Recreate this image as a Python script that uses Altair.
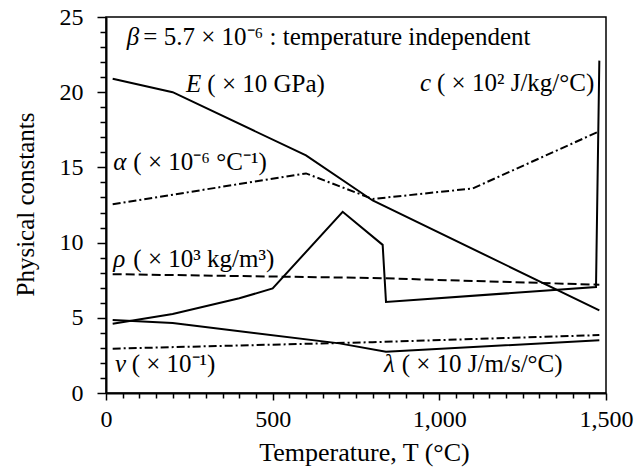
import altair as alt
import pandas as pd

# ---- data ----
T_E = [20, 200, 600, 800, 1480]
E = [20.9, 20.0, 15.8, 12.8, 5.5]

T_alpha = [20, 600, 800, 1100, 1480]
alpha = [12.55, 14.6, 12.9, 13.6, 17.4]

T_rho = [20, 800, 1480]
rho = [7.9, 7.65, 7.2]

T_c = [20, 200, 400, 500, 710, 830, 840, 1470, 1480]
c = [4.6, 5.25, 6.3, 6.95, 12.05, 9.85, 6.05, 7.05, 22.1]

T_lam = [20, 200, 700, 840, 1480]
lam = [4.85, 4.65, 3.3, 2.75, 3.5]

T_nu = [20, 800, 1480]
nu = [2.95, 3.38, 3.85]

# annotation labels: italic symbol, rest of text, anchors (data units)
lab_sym = ["β", "E", "α", "c", "ρ", "ν", "λ"]
lab_rest = [
    "= 5.7 × 10⁻⁶ : temperature independent",
    "( × 10 GPa)",
    "( × 10⁻⁶ °C⁻¹)",
    "( × 10² J/kg/°C)",
    "( × 10³ kg/m³)",
    "( × 10⁻¹)",
    "( × 10 J/m/s/°C)",
]
lab_x = [62, 240, 22, 942, 22, 27, 834]
lab_rest_x = [112, 304, 82, 993, 82, 77, 887]
lab_y = [23.14, 20.03, 14.83, 20.1, 8.4, 1.42, 1.42]

FONT = "Liberation Serif"
FS_TICK = 24
FS_LAB = 25


def series(T, v, name):
    return pd.DataFrame({"T": T, "v": v, "s": name})


x_scale = alt.Scale(domain=[0, 1500], nice=False, zero=False)
y_scale = alt.Scale(domain=[0, 25], nice=False, zero=False)

x_axis = alt.Axis(
    values=list(range(0, 1501, 50)),
    labelExpr="datum.value % 500 === 0 ? format(datum.value, ',') : ''",
    tickSize={"condition": {"test": "datum.value % 500 === 0", "value": 7}, "value": 5},
    tickWidth=1.5,
    labelPadding=7,
    labelFlush=False,
    labelOverlap=False,
    grid=False,
    domainWidth=2,
    title="Temperature, T (°C)",
    titleFontSize=26,
    titleX=258,
    titleY=67,
    titleBaseline="alphabetic",
    titleAlign="center",
)
y_axis = alt.Axis(
    values=list(range(0, 26)),
    labelExpr="datum.value % 5 === 0 ? datum.label : ''",
    tickSize={"condition": {"test": "datum.value % 5 === 0", "value": 9}, "value": 6},
    tickWidth=1.5,
    labelPadding=14,
    labelFlush=False,
    labelOverlap=False,
    grid=False,
    domainWidth=2,
    title="Physical constants",
    titleFontSize=25,
    titleX=-81,
    titleY=187,
    titleAngle=-90,
    titleAlign="center",
    titleBaseline="middle",
)


def line(df, dash=None):
    kw = {"color": "black", "strokeWidth": 2}
    if dash:
        kw["strokeDash"] = dash
    return alt.Chart(df).mark_line(**kw).encode(
        x=alt.X("T:Q", scale=x_scale, axis=x_axis),
        y=alt.Y("v:Q", scale=y_scale, axis=y_axis),
    )


layers = [
    line(series(T_E, E, "E")),
    line(series(T_alpha, alpha, "alpha"), [8, 3, 2, 3]),
    line(series(T_rho, rho, "rho"), [9, 4]),
    line(series(T_c, c, "c")),
    line(series(T_lam, lam, "lam")),
    line(series(T_nu, nu, "nu"), [8, 3, 2, 3]),
]

lab_df = pd.DataFrame({"sym": lab_sym, "rest": lab_rest, "x": lab_x, "rx": lab_rest_x, "y": lab_y})

sym_layer = alt.Chart(lab_df).mark_text(
    font=FONT, fontSize=FS_LAB, fontStyle="italic", align="left", baseline="alphabetic", color="black"
).encode(
    x=alt.X("x:Q", scale=x_scale, axis=x_axis),
    y=alt.Y("y:Q", scale=y_scale, axis=y_axis),
    text="sym:N",
)

rest_layer = alt.Chart(lab_df).mark_text(
    font=FONT, fontSize=FS_LAB, align="left", baseline="alphabetic", color="black"
).encode(
    x=alt.X("rx:Q", scale=x_scale, axis=x_axis),
    y=alt.Y("y:Q", scale=y_scale, axis=y_axis),
    text="rest:N",
)

chart = alt.layer(*layers, sym_layer, rest_layer).properties(
    width=500,
    height=376,
    autosize=alt.AutoSizeParams(type="none"),
    padding={"left": 106, "top": 17, "right": 37, "bottom": 79},
    background="white",
).configure_view(
    stroke="black", strokeWidth=1.5
).configure_axis(
    labelFont=FONT,
    labelFontSize=FS_TICK,
    labelColor="black",
    labelOverlap=False,
    titleFont=FONT,
    titleFontWeight="normal",
    titleColor="black",
    tickColor="black",
    domainColor="black",
)

chart.save("out.html", embed_options={"renderer": "svg", "actions": False})
